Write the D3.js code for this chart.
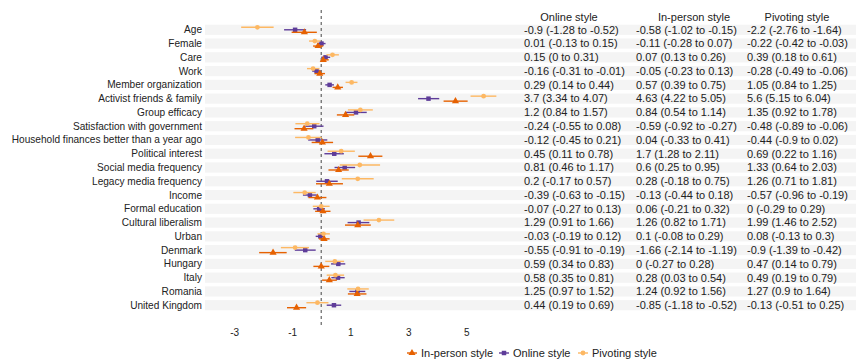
<!DOCTYPE html>
<html>
<head>
<meta charset="utf-8">
<script src="https://cdn.jsdelivr.net/npm/d3@7"></script>
<style>
  body { margin: 0; background: #fff; }
  svg { font-family: "Liberation Sans", Arial, sans-serif; }
</style>
</head>
<body>
<div id="chart"></div>
<script>
// Predictors, top to bottom
const categories = [
  'Age', 'Female', 'Care', 'Work', 'Member organization', 'Activist friends & family',
  'Group efficacy', 'Satisfaction with government', 'Household finances better than a year ago',
  'Political interest', 'Social media frequency', 'Legacy media frequency', 'Income',
  'Formal education', 'Cultural liberalism', 'Urban', 'Denmark', 'Hungary', 'Italy',
  'Romania', 'United Kingdom'
];

// [estimate, lower, upper] per predictor
const online = [
  [-0.9, -1.28, -0.52], [0.01, -0.13, 0.15], [0.15, 0, 0.31], [-0.16, -0.31, -0.01],
  [0.29, 0.14, 0.44], [3.7, 3.34, 4.07], [1.2, 0.84, 1.57], [-0.24, -0.55, 0.08],
  [-0.12, -0.45, 0.21], [0.45, 0.11, 0.78], [0.81, 0.46, 1.17], [0.2, -0.17, 0.57],
  [-0.39, -0.63, -0.15], [-0.07, -0.27, 0.13], [1.29, 0.91, 1.66], [-0.03, -0.19, 0.12],
  [-0.55, -0.91, -0.19], [0.59, 0.34, 0.83], [0.58, 0.35, 0.81], [1.25, 0.97, 1.52],
  [0.44, 0.19, 0.69]
];
const inPerson = [
  [-0.58, -1.02, -0.15], [-0.11, -0.28, 0.07], [0.07, 0.13, 0.26], [-0.05, -0.23, 0.13],
  [0.57, 0.39, 0.75], [4.63, 4.22, 5.05], [0.84, 0.54, 1.14], [-0.59, -0.92, -0.27],
  [0.04, -0.33, 0.41], [1.7, 1.28, 2.11], [0.6, 0.25, 0.95], [0.28, -0.18, 0.75],
  [-0.13, -0.44, 0.18], [0.06, -0.21, 0.32], [1.26, 0.82, 1.71], [0.1, -0.08, 0.29],
  [-1.66, -2.14, -1.19], [0, -0.27, 0.28], [0.28, 0.03, 0.54], [1.24, 0.92, 1.56],
  [-0.85, -1.18, -0.52]
];
const pivoting = [
  [-2.2, -2.76, -1.64], [-0.22, -0.42, -0.03], [0.39, 0.18, 0.61], [-0.28, -0.49, -0.06],
  [1.05, 0.84, 1.25], [5.6, 5.15, 6.04], [1.35, 0.92, 1.78], [-0.48, -0.89, -0.06],
  [-0.44, -0.9, 0.02], [0.69, 0.22, 1.16], [1.33, 0.64, 2.03], [1.26, 0.71, 1.81],
  [-0.57, -0.96, -0.19], [0, -0.29, 0.29], [1.99, 1.46, 2.52], [0.08, -0.13, 0.3],
  [-0.9, -1.39, -0.42], [0.47, 0.14, 0.79], [0.49, 0.19, 0.79], [1.27, 0.9, 1.64],
  [-0.13, -0.51, 0.25]
];

const xTicks = [-3, -1, 1, 3, 5];

const series = [
  { name: 'Online style', values: online, color: '#5e3c99', shape: d3.symbolSquare, size: 20, dy: 0 },
  { name: 'In-person style', values: inPerson, color: '#e66101', shape: d3.symbolTriangle, size: 22, dy: 2.5 },
  { name: 'Pivoting style', values: pivoting, color: '#fdb863', shape: d3.symbolCircle, size: 18, dy: -2.5 }
];
const legendOrder = ['In-person style', 'Online style', 'Pivoting style'];
const tableCols = [
  { name: 'Online style', x: 524, hx: 569 },
  { name: 'In-person style', x: 636, hx: 694 },
  { name: 'Pivoting style', x: 747, hx: 797 }
];

const width = 856;
const height = 360;

const svg = d3.select('#chart')
  .append('svg')
  .attr('width', width)
  .attr('height', height);

const x = d3.scaleLinear().domain([-3.8, 6.2]).range([211, 501]);
const y = d3.scaleBand().domain(categories).range([24.7, 310.3]).paddingInner(0.26);

// Row bands
svg.append('g')
  .selectAll('rect')
  .data(categories)
  .join('rect')
  .attr('x', 205)
  .attr('y', d => y(d))
  .attr('width', width - 205)
  .attr('height', y.bandwidth())
  .attr('fill', '#f4f4f4');

// Row labels
svg.append('g')
  .selectAll('text')
  .data(categories)
  .join('text')
  .attr('x', 202)
  .attr('y', d => y(d) + y.bandwidth() / 2)
  .attr('dy', '0.35em')
  .attr('text-anchor', 'end')
  .attr('fill', '#222')
  .style('font-size', '10.1px')
  .text(d => d);

// Zero reference line
svg.append('line')
  .attr('x1', x(0)).attr('x2', x(0))
  .attr('y1', 10).attr('y2', 325)
  .attr('stroke', '#444')
  .attr('stroke-width', 1)
  .attr('stroke-dasharray', '3,3');

// Error bars and markers
for (const s of series) {
  const g = svg.append('g');
  const rows = s.values.map((v, i) => ({ cat: categories[i], est: v[0], lo: v[1], hi: v[2] }));
  const cy = d => y(d.cat) + y.bandwidth() / 2 + s.dy;

  g.selectAll('line')
    .data(rows)
    .join('line')
    .attr('x1', d => x(Math.min(d.lo, d.est)))
    .attr('x2', d => x(Math.max(d.hi, d.est)))
    .attr('y1', cy)
    .attr('y2', cy)
    .attr('stroke', s.color)
    .attr('stroke-width', 1.4);

  g.selectAll('path')
    .data(rows)
    .join('path')
    .attr('d', d3.symbol().type(s.shape).size(s.size))
    .attr('transform', d => `translate(${x(d.est)},${cy(d)})`)
    .attr('fill', s.color);
}

// X axis
const axis = svg.append('g')
  .attr('transform', 'translate(0,326)')
  .call(d3.axisBottom(x).tickValues(xTicks).tickSize(0).tickFormat(d => String(d)));
axis.select('.domain').remove();
axis.selectAll('text')
  .attr('fill', '#222')
  .style('font-size', '10px')
  .style('font-family', '"Liberation Sans", Arial, sans-serif');

// Table of estimates
const fmt = v => `${v[0]} (${v[1]} to ${v[2]})`;
for (const col of tableCols) {
  const s = series.find(d => d.name === col.name);
  svg.append('text')
    .attr('x', col.hx)
    .attr('y', 21)
    .attr('text-anchor', 'middle')
    .attr('fill', '#222')
    .style('font-size', '11px')
    .text(col.name);
  svg.append('g')
    .selectAll('text')
    .data(s.values)
    .join('text')
    .attr('x', col.x)
    .attr('y', (d, i) => y(categories[i]) + y.bandwidth() / 2)
    .attr('dy', '0.35em')
    .attr('fill', '#222')
    .style('font-size', '11px')
    .text(fmt);
}

// Legend
const legendX = [412, 504, 583];
const legend = svg.append('g');
legendOrder.forEach((name, i) => {
  const s = series.find(d => d.name === name);
  const lg = legend.append('g').attr('transform', `translate(${legendX[i]},353)`);
  lg.append('line')
    .attr('x1', -5).attr('x2', 5)
    .attr('stroke', s.color).attr('stroke-width', 1.4);
  lg.append('path')
    .attr('d', d3.symbol().type(s.shape).size(s.size))
    .attr('fill', s.color);
  lg.append('text')
    .attr('x', 9)
    .attr('dy', '0.35em')
    .attr('fill', '#222')
    .style('font-size', '11px')
    .text(name);
});
</script>
</body>
</html>
